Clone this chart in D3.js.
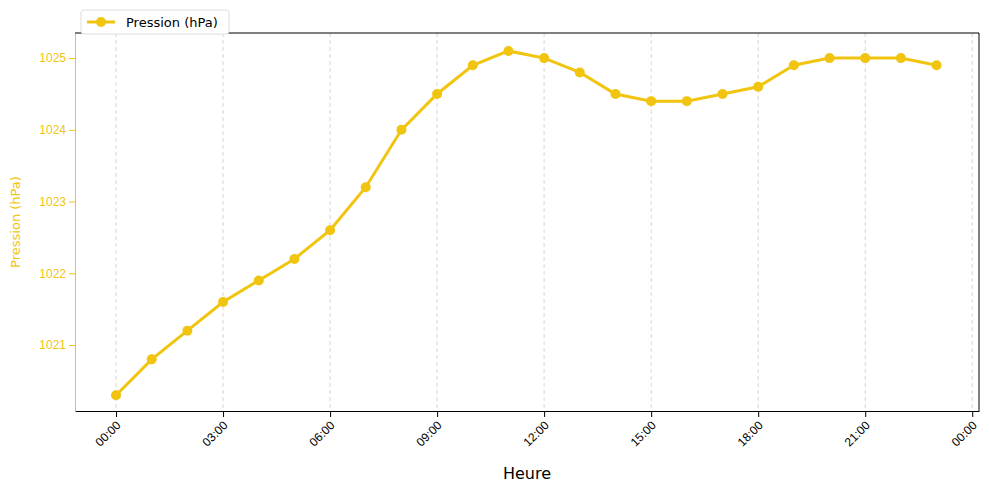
<!DOCTYPE html>
<html>
<head>
<meta charset="utf-8">
<script src="https://cdn.jsdelivr.net/npm/d3@7"></script>
<style>body{margin:0;background:#fff;font-family:"DejaVu Sans",sans-serif}</style>
</head>
<body>
<div id="chart"></div>
<script>
// hourly pressure readings
var hours = [0,1,2,3,4,5,6,7,8,9,10,11,12,13,14,15,16,17,18,19,20,21,22,23]
var pressure = [1020.3,1020.8,1021.2,1021.6,1021.9,1022.2,1022.6,1023.2,1024.0,1024.5,1024.9,1025.1,
                1025.0,1024.8,1024.5,1024.4,1024.4,1024.5,1024.6,1024.9,1025.0,1025.0,1025.0,1024.9]
var xTicks = [0,3,6,9,12,15,18,21,24]
var xTickLabels = ["00:00","03:00","06:00","09:00","12:00","15:00","18:00","21:00","00:00"]
var yTicks = [1021,1022,1023,1024,1025]
var seriesName = "Pression (hPa)"

var color = "#f1c40f"
var margin = {top: 33, right: 10, bottom: 82, left: 75}
var width = 989 - margin.left - margin.right
var height = 493 - margin.top - margin.bottom

var svg = d3.select("#chart").append("svg")
    .attr("width", 989).attr("height", 493)
var frame = svg.append("g").attr("transform", `translate(${margin.left},${margin.top})`)

var xScale = d3.scaleLinear().domain([-1.15, 24.19]).range([0, width])
var yScale = d3.scaleLinear().domain([1020.08, 1025.35]).range([height, 0])

// vertical grid
frame.append("g").selectAll("line").data(xTicks).enter().append("line")
    .attr("x1", d => xScale(d)).attr("x2", d => xScale(d))
    .attr("y1", 0).attr("y2", height)
    .attr("stroke", "#ccc").attr("stroke-dasharray", "4,3").attr("stroke-width", 0.8)

var xAxis = frame.append("g").attr("transform", `translate(0,${height})`)
    .call(d3.axisBottom(xScale).tickValues(xTicks).tickFormat((d, i) => xTickLabels[i]).tickSizeOuter(0))
xAxis.selectAll("text").style("font-size", "12px").attr("fill", "#000")
    .attr("text-anchor", "end").attr("x", 0).attr("y", 0).attr("dy", "0.35em")
    .attr("transform", "translate(2,12) rotate(-45)")
xAxis.select(".domain").attr("stroke", "#000")

var yAxis = frame.append("g")
    .call(d3.axisLeft(yScale).tickValues(yTicks).tickFormat(d3.format("d")).tickSizeOuter(0))
yAxis.selectAll("text").style("font-size", "12px").attr("fill", color)
yAxis.selectAll(".tick line").attr("stroke", color)
yAxis.select(".domain").attr("stroke", color)

// top / right spines
frame.append("line").attr("x1", 0).attr("x2", width).attr("y1", 0).attr("y2", 0).attr("stroke", "#000")
frame.append("line").attr("x1", width).attr("x2", width).attr("y1", 0).attr("y2", height).attr("stroke", "#000")

var line = d3.line().x((d, i) => xScale(hours[i])).y(d => yScale(d))
frame.append("path").datum(pressure).attr("d", line)
    .attr("fill", "none").attr("stroke", color).attr("stroke-width", 3)
frame.selectAll("circle").data(pressure).enter().append("circle")
    .attr("cx", (d, i) => xScale(hours[i])).attr("cy", d => yScale(d))
    .attr("r", 5).attr("fill", color)

svg.append("text").attr("x", margin.left + width / 2).attr("y", 479)
    .attr("text-anchor", "middle").attr("font-size", 16).text("Heure")
svg.append("text").attr("transform", `translate(20,${margin.top + height / 2}) rotate(-90)`)
    .attr("text-anchor", "middle").attr("font-size", 13).attr("fill", color).text(seriesName)

// legend
var lg = svg.append("g").attr("transform", "translate(81,10)")
lg.append("rect").attr("width", 148).attr("height", 24).attr("rx", 3)
    .attr("fill", "#fff").attr("stroke", "#ddd")
lg.append("line").attr("x1", 6).attr("x2", 34).attr("y1", 12).attr("y2", 12)
    .attr("stroke", color).attr("stroke-width", 3)
lg.append("circle").attr("cx", 20).attr("cy", 12).attr("r", 5).attr("fill", color)
lg.append("text").attr("x", 45).attr("y", 16.5).attr("font-size", 13).text(seriesName)
</script>
</body>
</html>
